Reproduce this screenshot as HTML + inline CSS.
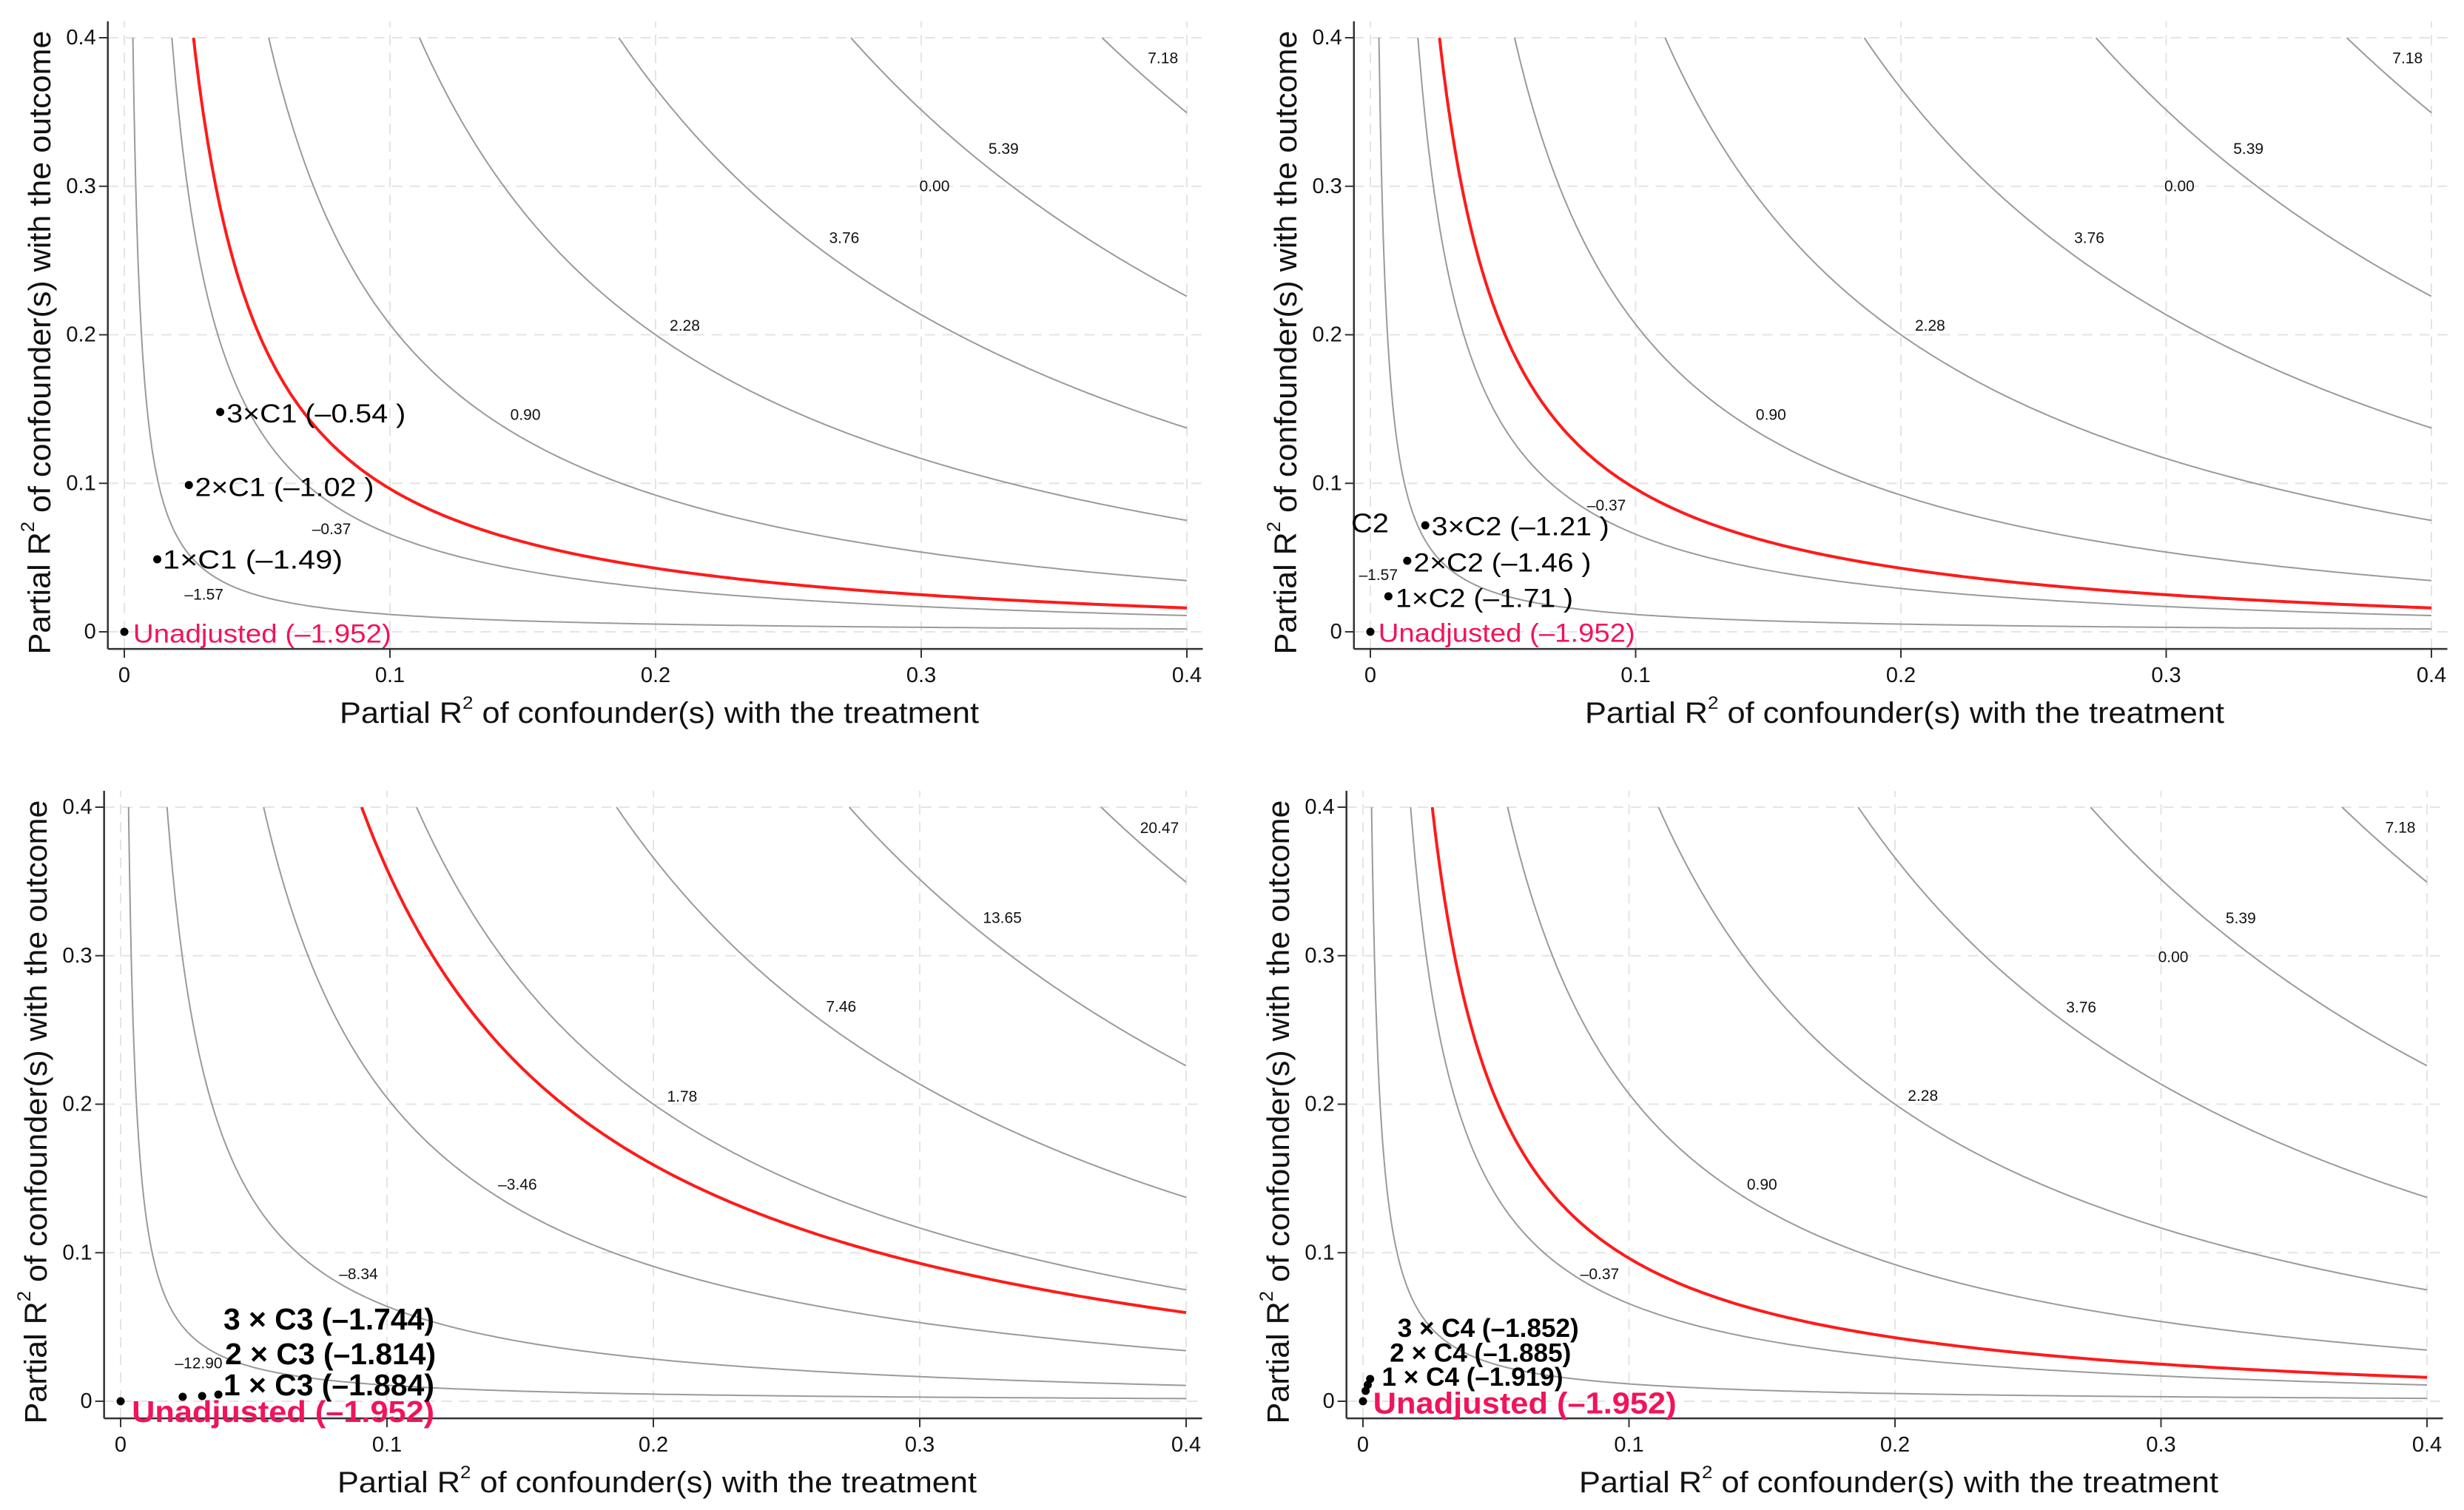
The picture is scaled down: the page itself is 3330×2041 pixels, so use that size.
<!DOCTYPE html>
<html><head><meta charset="utf-8">
<style>
html,body{margin:0;padding:0;background:#fff;}
svg{display:block;font-family:"Liberation Sans",Arial,sans-serif;}
</style></head>
<body>
<svg id="fig" width="3330" height="2041" viewBox="0 0 3330 2041" xmlns="http://www.w3.org/2000/svg">
<rect x="0" y="0" width="3330" height="2041" fill="#fff"/>
</svg>
<script>
// ---- data ----
const xTicks = [0, 0.1, 0.2, 0.3, 0.4];
const yTicks = [0, 0.1, 0.2, 0.3, 0.4];
const xTickLabels = ["0", "0.1", "0.2", "0.3", "0.4"];
const yTickLabels = ["0", "0.1", "0.2", "0.3", "0.4"];

// contour constants k = r2yz*r2dz/(1-r2dz)
const p1K = [0.0013, 0.0073, 0.023, 0.050, 0.0915, 0.1506, 0.233];
const p1Levels = ["-1.57", "-0.37", "0.90", "2.28", "3.76", "5.39", "7.18"];
const p1LabX = [0.030, 0.078, 0.151, 0.211, 0.271, 0.331, 0.391];
const p1LabY = [0.025, 0.069, 0.146, 0.206, 0.265, 0.325, 0.386];
const p1RedK = 0.0107;

const p2K = [0.0013, 0.0073, 0.023, 0.050, 0.0915, 0.1506, 0.233];
const p2Levels = ["-1.57", "-0.37", "0.90", "2.28", "3.76", "5.39", "7.18"];
const p2LabX = [0.003, 0.089, 0.151, 0.211, 0.271, 0.331, 0.391];
const p2LabY = [0.038, 0.085, 0.146, 0.206, 0.265, 0.325, 0.386];
const p2RedK = 0.0107;

const p3K = [0.0012, 0.0071, 0.0227, 0.050, 0.0915, 0.1506, 0.233];
const p3Levels = ["-12.90", "-8.34", "-3.46", "1.78", "7.46", "13.65", "20.47"];
const p3LabX = [0.0293, 0.0893, 0.149, 0.2108, 0.2705, 0.331, 0.390];
const p3LabY = [0.0254, 0.0855, 0.1457, 0.205, 0.2654, 0.3252, 0.3857];
const p3RedK = 0.0398;

const p4K = [0.0013, 0.0073, 0.023, 0.050, 0.0915, 0.1506, 0.233];
const p4Levels = ["", "-0.37", "0.90", "2.28", "3.76", "5.39", "7.18"];
const p4LabX = [0, 0.089, 0.150, 0.2105, 0.270, 0.330, 0.390];
const p4LabY = [0, 0.0855, 0.1457, 0.2055, 0.265, 0.325, 0.386];
const p4RedK = 0.0107;

// zero-level "0.00" floating labels
const zeroLabX = [0.305, 0.305, null, 0.3046];
const zeroLabY = [0.300, 0.300, null, 0.2988];

// benchmark points
const p1PtX = [0, 0.0124, 0.0243, 0.0361];
const p1PtY = [0, 0.0488, 0.0988, 0.148];
const p1PtText = ["Unadjusted (\u20131.952)", "1\u00d7C1 (\u20131.49)", "2\u00d7C1 (\u20131.02 )", "3\u00d7C1 (\u20130.54 )"];
const p1TxtX = [0.0033, 0.0145, 0.0266, 0.0385];
const p1TxtY = [-0.0016, 0.0484, 0.0972, 0.1466];

const p2PtX = [0, 0.0068, 0.0139, 0.0207];
const p2PtY = [0, 0.0239, 0.0478, 0.0717];
const p2PtText = ["Unadjusted (\u20131.952)", "1\u00d7C2 (\u20131.71 )", "2\u00d7C2 (\u20131.46 )", "3\u00d7C2 (\u20131.21 )"];
const p2TxtX = [0.003, 0.0095, 0.0163, 0.0231];
const p2TxtY = [-0.001, 0.0223, 0.0463, 0.0708];

const p3PtX = [0, 0.0233, 0.0306, 0.0367];
const p3PtY = [0, 0.003, 0.0035, 0.0045];
const p3PtText = ["Unadjusted (\u20131.952)", "1 \u00d7 C3 (\u20131.884)", "2 \u00d7 C3 (\u20131.814)", "3 \u00d7 C3 (\u20131.744)"];
const p3TxtX = [0.0042, 0.0386, 0.0392, 0.0386];
const p3TxtY = [-0.0070, 0.011, 0.0319, 0.0553];

const p4PtX = [0, 0.001, 0.0018, 0.0027];
const p4PtY = [0, 0.007, 0.011, 0.015];
const p4PtText = ["Unadjusted (\u20131.952)", "1 \u00d7 C4 (\u20131.919)", "2 \u00d7 C4 (\u20131.885)", "3 \u00d7 C4 (\u20131.852)"];
const p4TxtX = [0.0038, 0.0071, 0.0101, 0.0130];
const p4TxtY = [-0.0013, 0.0163, 0.0325, 0.0491];

// ---- drawing ----
const NS = "http://www.w3.org/2000/svg";
const svg = document.getElementById("fig");
function mk(tag, attrs, parent) {
  const e = document.createElementNS(NS, tag);
  for (const k in attrs) e.setAttribute(k, attrs[k]);
  (parent || svg).appendChild(e);
  return e;
}

const panels = [
  {id: "c1", x0: 168, x1: 1604, y0: 854, y1: 51, K: p1K, lv: p1Levels, lx: p1LabX, ly: p1LabY, red: p1RedK,
   px: p1PtX, py: p1PtY, pt: p1PtText, tx: p1TxtX, ty: p1TxtY, bold: false, tw: [349, 243, 242, 242], fs: 35},
  {id: "c2", x0: 1852, x1: 3286, y0: 854, y1: 51, K: p2K, lv: p2Levels, lx: p2LabX, ly: p2LabY, red: p2RedK,
   px: p2PtX, py: p2PtY, pt: p2PtText, tx: p2TxtX, ty: p2TxtY, bold: false, tw: [347, 240, 240, 240], fs: 35},
  {id: "c3", x0: 163, x1: 1603, y0: 1894, y1: 1091, K: p3K, lv: p3Levels, lx: p3LabX, ly: p3LabY, red: p3RedK,
   px: p3PtX, py: p3PtY, pt: p3PtText, tx: p3TxtX, ty: p3TxtY, bold: true, tw: [409, 285, 285, 285], fs: 41},
  {id: "c4", x0: 1842, x1: 3280, y0: 1894, y1: 1091, K: p4K, lv: p4Levels, lx: p4LabX, ly: p4LabY, red: p4RedK,
   px: p4PtX, py: p4PtY, pt: p4PtText, tx: p4TxtX, ty: p4TxtY, bold: true, tw: [410, 245, 245, 245], fs: 35}
];

panels.forEach((P, pi) => {
  const sx = v => P.x0 + (v / 0.4) * (P.x1 - P.x0);
  const sy = v => P.y0 + (v / 0.4) * (P.y1 - P.y0);
  const g = mk("g", {});
  
  

  const left = sx(-0.0062), bottom = sy(-0.0115), right = sx(0.406), top = sy(0.411);
  // grid
  xTicks.forEach(t => {
    const l = mk("line", {x1: sx(t), x2: sx(t), y1: bottom, y2: top, stroke: "#e4e4e4", "stroke-width": 2, "stroke-dasharray": "14 10"}, g);
    
    
  });
  yTicks.forEach(t => {
    const l = mk("line", {x1: left, x2: right, y1: sy(t), y2: sy(t), stroke: "#e4e4e4", "stroke-width": 2, "stroke-dasharray": "14 10"}, g);
    
    
  });
  // axes
  const ax = mk("line", {x1: left, x2: right, y1: bottom, y2: bottom, stroke: "#333", "stroke-width": 2.5}, g);
  
  
  const ay = mk("line", {x1: left, x2: left, y1: bottom, y2: top, stroke: "#333", "stroke-width": 2.5}, g);
  
  
  xTicks.forEach((t, i) => {
    mk("line", {x1: sx(t), x2: sx(t), y1: bottom, y2: bottom + 12, stroke: "#333", "stroke-width": 2}, g);
    const tl = mk("text", {x: sx(t), y: bottom + 36, "font-size": 29, "text-anchor": "middle", "dominant-baseline": "central", fill: "#111"}, g);
    tl.textContent = xTickLabels[i];
    
    
  });
  yTicks.forEach((t, i) => {
    mk("line", {x1: left - 12, x2: left, y1: sy(t), y2: sy(t), stroke: "#333", "stroke-width": 2}, g);
    const tl = mk("text", {x: left - 16, y: sy(t), "font-size": 29, "text-anchor": "end", "dominant-baseline": "central", fill: "#111"}, g);
    tl.textContent = yTickLabels[i];
    
    
  });
  // contour curves
  function curve(k) {
    const xs = k / (0.4 + k);
    let d = "";
    const N = 300;
    for (let i = 0; i <= N; i++) {
      const x = xs * Math.pow(0.4 / xs, i / N);
      const y = k * (1 - x) / x;
      d += (i ? "L" : "M") + sx(x).toFixed(1) + "," + sy(y).toFixed(1);
    }
    return d;
  }
  P.K.forEach((k, i) => {
    const c = mk("path", {d: curve(k), fill: "none", stroke: "#9a9a9a", "stroke-width": 2}, g);
    
    
    if (P.lv[i]) {
      const t = mk("text", {x: sx(P.lx[i]), y: sy(P.ly[i]), "font-size": 21, "text-anchor": "middle", "dominant-baseline": "central", fill: "#111"}, g);
      t.textContent = P.lv[i].replace("-", "\u2013");
      
      
    }
  });
  if (zeroLabX[pi] !== null) {
    const z = mk("text", {x: sx(zeroLabX[pi]), y: sy(zeroLabY[pi]), "font-size": 21, "text-anchor": "middle", "dominant-baseline": "central", fill: "#111"}, g);
    z.textContent = "0.00";
    
    
  }
  const r = mk("path", {d: curve(P.red), fill: "none", stroke: "#ff1a1a", "stroke-width": 4}, g);
  
  

  // points & annotations
  P.px.forEach((x, i) => {
    const d = mk("circle", {cx: sx(x), cy: sy(P.py[i]), r: 5.5, fill: "#000"}, g);
    
    
    const t = mk("text", {x: sx(P.tx[i]), y: sy(P.ty[i]), "font-size": i === 0 && P.bold ? 41 : P.fs,
      "font-weight": P.bold ? "bold" : "normal", "dominant-baseline": "central",
      fill: i === 0 ? "#f0145a" : "#000", textLength: P.tw[i], lengthAdjust: "spacingAndGlyphs"}, g);
    t.textContent = P.pt[i];
    
    
  });
  if (pi === 1) {
    const c2 = mk("text", {x: P.x0 - 26, y: sy(0.0733), "font-size": 36, "dominant-baseline": "central", fill: "#000", textLength: 51, lengthAdjust: "spacingAndGlyphs"}, g);
    c2.textContent = "C2";
    
    
  }

  // axis titles
  const xt = mk("text", {x: (P.x0 + P.x1) / 2 + 5, y: bottom + 87, "font-size": 40, "text-anchor": "middle", "dominant-baseline": "central", fill: "#111", textLength: 864, lengthAdjust: "spacingAndGlyphs"}, g);
  xt.innerHTML = 'Partial R<tspan font-size="24" dy="-14">2</tspan><tspan dy="14"> of confounder(s) with the treatment</tspan>';
  
  
  const cy = (top + bottom) / 2 + 10;
  const yt = mk("text", {x: 0, y: 0, "font-size": 42, "text-anchor": "middle", "dominant-baseline": "central", fill: "#111",
    transform: `translate(${P.x0 - 115},${cy}) rotate(-90)`, textLength: 843, lengthAdjust: "spacingAndGlyphs"}, g);
  yt.innerHTML = 'Partial R<tspan font-size="25" dy="-15">2</tspan><tspan dy="15"> of confounder(s) with the outcome</tspan>';
  
  
});
</script>
</body></html>
